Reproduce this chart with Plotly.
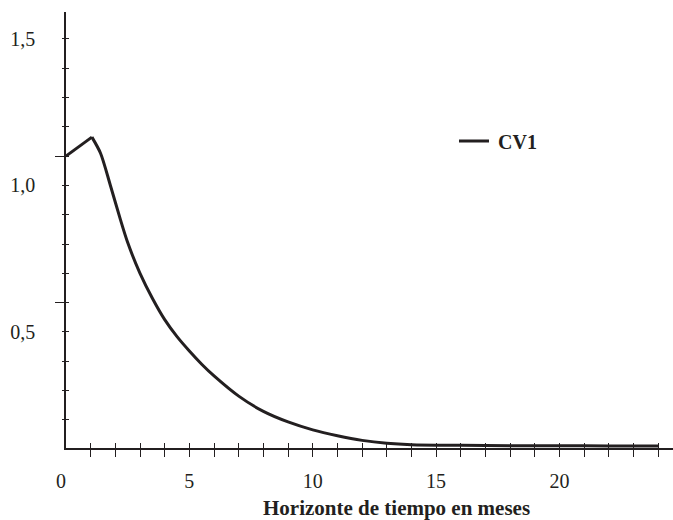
import plotly.graph_objects as go

# Data
months = [0, 1.05, 1.4, 1.8, 2.2, 2.5, 3, 3.5, 4, 4.5, 5, 5.5, 6, 7, 8, 9, 10,
          11, 12, 13, 14, 16, 18, 20, 22, 24]
cv1 = [1.10, 1.165, 1.11, 1.00, 0.885, 0.805, 0.70, 0.615, 0.542, 0.484, 0.435,
       0.390, 0.350, 0.281, 0.229, 0.193, 0.166, 0.146, 0.130, 0.120, 0.115,
       0.113, 0.112, 0.112, 0.111, 0.111]

x_label_vals = [0, 5, 10, 15, 20]
x_label_text = ["0\u2002", "5", "10", "15", "20"]
x_tick_vals = list(range(1, 25))

y_label_vals = [0.5, 1.0, 1.5]
y_label_text = ["0,5", "1,0", "1,5"]
y_tick_vals = [round(0.2 + 0.1 * i, 2) for i in range(14)]
y_long_ticks = [0.6, 1.1]

x_title = "Horizonte de tiempo en meses"
series_name = "CV1"

INK = "#231f20"
FONT = "Liberation Serif"
XR = [0, 24.6]
YR = [0.104, 1.592]

fig = go.Figure()
# rising segment (straight) up to the peak
fig.add_trace(go.Scatter(x=months[:2], y=cv1[:2], mode="lines", name=series_name,
                         line=dict(color=INK, width=3), showlegend=False,
                         hoverinfo="skip"))
# decaying segment (smooth)
fig.add_trace(go.Scatter(x=months[1:], y=cv1[1:], mode="lines",
                         name="\u2009" + series_name,
                         line=dict(color=INK, width=3, shape="spline", smoothing=0.8),
                         showlegend=True))

# invisible helper traces so the overlay axes are drawn
for xa, ya in [("x2", "y"), ("x3", "y"), ("x", "y2"), ("x", "y3"), ("x", "y4")]:
    fig.add_trace(go.Scatter(x=[months[-1]], y=[cv1[-1]], xaxis=xa, yaxis=ya,
                             mode="markers", marker=dict(opacity=0),
                             showlegend=False, hoverinfo="skip"))

common = dict(showgrid=False, zeroline=False, fixedrange=True)

fig.update_layout(
    width=673, height=520,
    margin=dict(l=66, r=0, t=12, b=72),
    paper_bgcolor="white", plot_bgcolor="white",
    font=dict(family=FONT, size=20, color=INK),
    xaxis=dict(range=XR, tickvals=x_label_vals, ticktext=x_label_text, ticks="",
               showline=True, linecolor=INK, linewidth=1.5,
               ticklabelstandoff=14, tickfont=dict(size=20), **common),
    xaxis2=dict(range=XR, overlaying="x", anchor="y", side="bottom",
                tickvals=x_tick_vals, ticks="outside", ticklen=8, tickwidth=1.2,
                tickcolor=INK, showticklabels=False, showline=False, **common),
    xaxis3=dict(range=XR, overlaying="x", anchor="y", side="bottom",
                tickvals=x_tick_vals, ticks="inside", ticklen=5, tickwidth=1.2,
                tickcolor=INK, showticklabels=False, showline=False, **common),
    yaxis=dict(range=YR, tickvals=y_label_vals, ticktext=y_label_text, ticks="",
               showline=True, linecolor=INK, linewidth=1.5,
               ticklabelstandoff=25, tickfont=dict(size=20), **common),
    yaxis2=dict(range=YR, overlaying="y", anchor="x", side="left",
                tickvals=y_tick_vals, ticks="outside", ticklen=3, tickwidth=1.2,
                tickcolor=INK, showticklabels=False, showline=False, **common),
    yaxis3=dict(range=YR, overlaying="y", anchor="x", side="left",
                tickvals=y_tick_vals, ticks="inside", ticklen=3, tickwidth=1.2,
                tickcolor=INK, showticklabels=False, showline=False, **common),
    yaxis4=dict(range=YR, overlaying="y", anchor="x", side="left",
                tickvals=y_long_ticks, ticks="outside", ticklen=10, tickwidth=1.2,
                tickcolor=INK, showticklabels=False, showline=False, **common),
    legend=dict(x=0.6392, y=0.704, xanchor="left", yanchor="middle",
                bgcolor="rgba(0,0,0,0)", borderwidth=0,
                font=dict(family=FONT, size=20, color=INK, weight="bold")),
    annotations=[dict(text="<b>" + x_title + "</b>", xref="paper", yref="paper",
                      x=0.545, y=-0.1365, xanchor="center", yanchor="middle",
                      showarrow=False, font=dict(family=FONT, size=21, color=INK))],
)

fig.write_html("out.html", post_script="document.body.style.margin='0';",
               config={"displayModeBar": False})
